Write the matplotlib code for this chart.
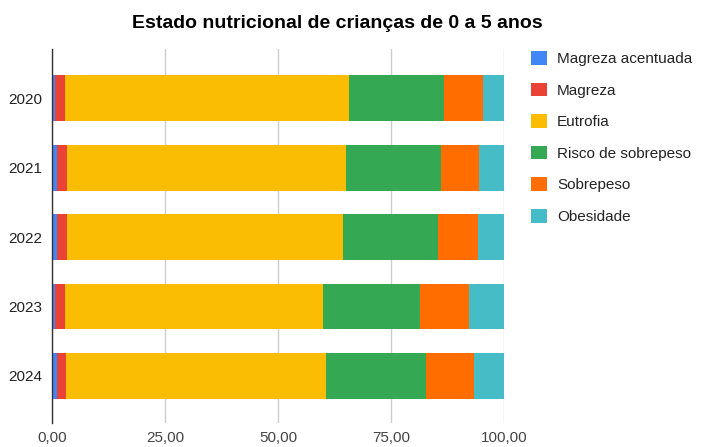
import matplotlib
matplotlib.use("Agg")
import matplotlib.pyplot as plt
import numpy as np
from matplotlib.patches import Patch

plt.rcParams['font.family'] = ['Liberation Sans', 'DejaVu Sans']

years = ["2020", "2021", "2022", "2023", "2024"]
series_names = ["Magreza acentuada", "Magreza", "Eutrofia", "Risco de sobrepeso", "Sobrepeso", "Obesidade"]
magreza_acentuada = [0.6, 1.0, 1.0, 0.6, 1.0]
magreza = [2.2, 2.3, 2.3, 2.2, 2.1]
eutrofia = [62.9, 61.8, 61.0, 57.1, 57.5]
risco_sobrepeso = [20.9, 20.9, 21.1, 21.4, 22.0]
sobrepeso = [8.7, 8.4, 8.7, 10.8, 10.6]
obesidade = [4.7, 5.6, 5.9, 7.9, 6.8]
x_ticks = [0, 25, 50, 75, 100]
x_tick_labels = ["0,00", "25,00", "50,00", "75,00", "100,00"]

colors = ["#4285F4", "#EA4335", "#FBBC04", "#34A853", "#FF6D01", "#46BDC6"]
data = [magreza_acentuada, magreza, eutrofia, risco_sobrepeso, sobrepeso, obesidade]

W, H = 705, 447
fig = plt.figure(figsize=(W / 100, H / 100), dpi=100)
left, right, top, bottom = 52, 504.3, 49, 423
ax = fig.add_axes([left / W, 1 - bottom / H, (right - left) / W, (bottom - top) / H])

y = np.arange(len(years))
cum = np.zeros(len(years))
handles = []
for name, vals, c in zip(series_names, data, colors):
    vals = np.array(vals)
    ax.barh(y, vals, left=cum, height=0.66, color=c, edgecolor='none', zorder=3)
    cum += vals
    handles.append(Patch(facecolor=c, edgecolor='none', label=name))

ax.set_xlim(0, 100)
ax.set_ylim(4.68, -0.71)
ax.set_yticks(y)
ax.set_yticklabels(years, fontsize=11, color="#222222")
ax.set_xticks(x_ticks)
ax.set_xticklabels(x_tick_labels, fontsize=11, color="#444444")
ax.tick_params(axis='both', length=0)
ax.tick_params(axis='y', pad=7)
ax.tick_params(axis='x', pad=6)
ax.grid(axis='x', color="#cccccc", linewidth=1, zorder=0)
for s in ['top', 'right', 'bottom']:
    ax.spines[s].set_visible(False)
ax.spines['left'].set_color("#333333")
ax.spines['left'].set_linewidth(1)
ax.spines['left'].set_zorder(4)

fig.text(337 / W, 1 - 24 / H, "Estado nutricional de crianças de 0 a 5 anos",
         ha='center', va='center', fontsize=14, fontweight='bold', color="#000000")

leg = fig.legend(handles=handles, loc='upper left', bbox_to_anchor=(531 / W, 1 - 51 / H),
                 frameon=False, fontsize=11, handlelength=1.05, handleheight=1.0,
                 handletextpad=0.65, labelspacing=1.08, borderaxespad=0, borderpad=0)
for t in leg.get_texts():
    t.set_color("#222222")

fig.savefig("out.png", dpi=100)
